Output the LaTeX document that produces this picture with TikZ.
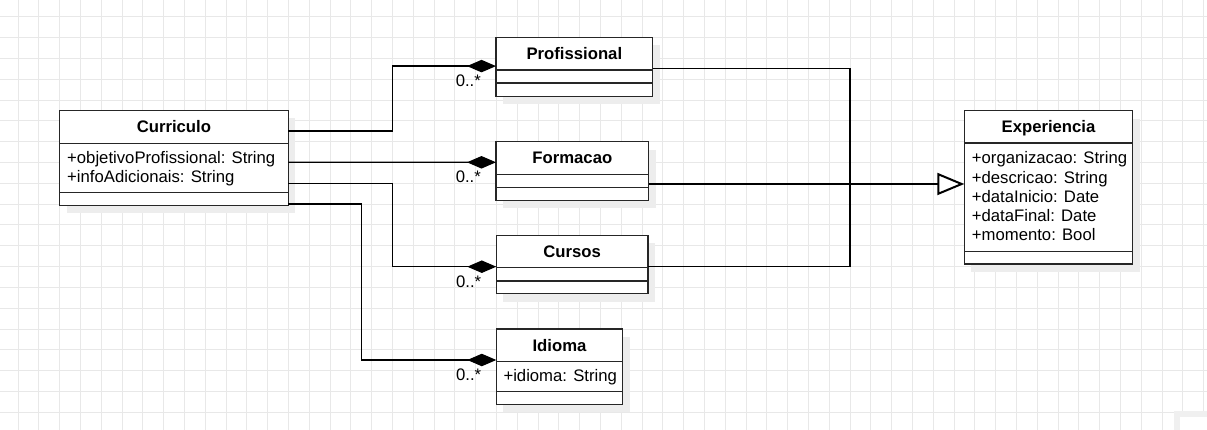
\documentclass[tikz,border=0pt]{standalone}
\usepackage{fontspec}
\setmainfont{Liberation Sans}
\usetikzlibrary{arrows.meta,shadows}

\begin{document}
\begin{tikzpicture}[x=1pt,y=-1pt,
    node font=\fontsize{16.7}{19}\selectfont,
    gridline/.style={black!9,line width=1pt},
    umlbox/.style={draw=black!85,line width=1.3pt,fill=white,anchor=north west,
      inner sep=0pt,outer sep=0pt,
      drop shadow={shadow xshift=7pt,shadow yshift=-8pt,fill=black!7,opacity=1}},
    sep/.style={black!85,line width=1.3pt},
    title/.style={font=\bfseries,anchor=base,inner sep=0pt},
    attr/.style={anchor=base west,inner sep=0pt},
    mult/.style={anchor=base east,inner sep=0pt,xshift=-14.5pt,yshift=-20.7pt},
    comp/.style={line width=1.3pt,-{Diamond[length=29pt,width=12.5pt]}},
    gen/.style={line width=1.3pt}]
  \useasboundingbox (0,0) rectangle (1207,430);
  \fill[white] (0,0) rectangle (1207,430);
  % background grid
  \foreach \i in {0,...,57}
    \draw[gridline] ({18+20.8*\i},0) -- ({18+20.8*\i},430);
  \foreach \j in {0,...,19}
    \draw[gridline] (0,{17+20.8*\j}) -- (1207,{17+20.8*\j});
  \fill[black!6] (1174,411) rectangle (1207,430);
  \fill[white] (1180,417) rectangle (1207,430);

  % classes
  \node[umlbox,minimum width=228.8pt,minimum height=95pt] (curriculo) at (59.5,110.4) {};
  \node[title] (curriculo-t) at ([yshift=-22.3pt]curriculo.north) {Curriculo};
  \draw[sep] ([yshift=-33pt]curriculo.north west) -- ([yshift=-33pt]curriculo.north east);
  \draw[sep] ([yshift=-82pt]curriculo.north west) -- ([yshift=-82pt]curriculo.north east);
  \node[attr] (curriculo-a1) at (67,163.3) {+objetivoProfissional: String};
  \node[attr] (curriculo-a2) at (67,182.3) {+infoAdicionais: String};

  \node[umlbox,minimum width=156.7pt,minimum height=59pt] (prof) at (496,37.3) {};
  \node[title] (prof-t) at ([yshift=-22.3pt]prof.north) {Profissional};
  \draw[sep] ([yshift=-32.7pt]prof.north west) -- ([yshift=-32.7pt]prof.north east);
  \draw[sep] ([yshift=-45.7pt]prof.north west) -- ([yshift=-45.7pt]prof.north east);

  \node[umlbox,minimum width=152.7pt,minimum height=58.6pt] (formacao) at (496,141.7) {};
  \node[title] (formacao-t) at ([yshift=-22.3pt]formacao.north) {Formacao};
  \draw[sep] ([yshift=-32.6pt]formacao.north west) -- ([yshift=-32.6pt]formacao.north east);
  \draw[sep] ([yshift=-45.6pt]formacao.north west) -- ([yshift=-45.6pt]formacao.north east);

  \node[umlbox,minimum width=151.7pt,minimum height=58.4pt] (cursos) at (496.3,235.3) {};
  \node[title] (cursos-t) at ([yshift=-22.3pt]cursos.north) {Cursos};
  \draw[sep] ([yshift=-32.4pt]cursos.north west) -- ([yshift=-32.4pt]cursos.north east);
  \draw[sep] ([yshift=-45.7pt]cursos.north west) -- ([yshift=-45.7pt]cursos.north east);

  \node[umlbox,minimum width=126.4pt,minimum height=75.3pt] (idioma) at (496.3,329) {};
  \node[title] (idioma-t) at ([yshift=-22.3pt]idioma.north) {Idioma};
  \draw[sep] ([yshift=-32.7pt]idioma.north west) -- ([yshift=-32.7pt]idioma.north east);
  \draw[sep] ([yshift=-62.7pt]idioma.north west) -- ([yshift=-62.7pt]idioma.north east);
  \node[attr] (idioma-a1) at (503.3,381) {+idioma: String};

  \node[umlbox,minimum width=168.4pt,minimum height=153.3pt] (exp) at (964.3,110.7) {};
  \node[title] (exp-t) at ([yshift=-22.3pt]exp.north) {Experiencia};
  \draw[sep] ([yshift=-32.3pt]exp.north west) -- ([yshift=-32.3pt]exp.north east);
  \draw[sep] ([yshift=-140.6pt]exp.north west) -- ([yshift=-140.6pt]exp.north east);
  \foreach \t [count=\k] in {+organizacao: String,+descricao: String,+dataInicio: Date,
      +dataFinal: Date,+momento: Bool}
    \node[attr] (exp-a\k) at (971.7,{144.8+19.2*\k}) {\t};

  % composition
  \draw[comp] ([yshift=-20.5pt]curriculo.north east) -- ++(104,0) |- ([yshift=-28.8pt]prof.north west)
    node[mult] (m-prof) {0..*};
  \draw[comp] ([yshift=-51.9pt]curriculo.north east) -- ([yshift=-20.6pt]formacao.north west)
    node[mult] (m-formacao) {0..*};
  \draw[comp] ([yshift=-72.9pt]curriculo.north east) -- ++(104,0) |- ([yshift=-31.4pt]cursos.north west)
    node[mult] (m-cursos) {0..*};
  \draw[comp] ([yshift=-93.6pt]curriculo.north east) -- ++(73,0) |- ([yshift=-31pt]idioma.north west)
    node[mult] (m-idioma) {0..*};

  % generalization
  \coordinate (join) at (850,184);
  \draw[gen] ([yshift=-31.4pt]prof.north east) -| (join);
  \draw[gen] ([yshift=-42.3pt]formacao.north east) -- (join);
  \draw[gen] ([yshift=-31.4pt]cursos.north east) -| (join);
  \draw[gen,line width=2pt,-{Triangle[fill=white,length=27pt,width=22pt]}] (join)
    -- ([yshift=-73.3pt]exp.north west);
\end{tikzpicture}
\end{document}
